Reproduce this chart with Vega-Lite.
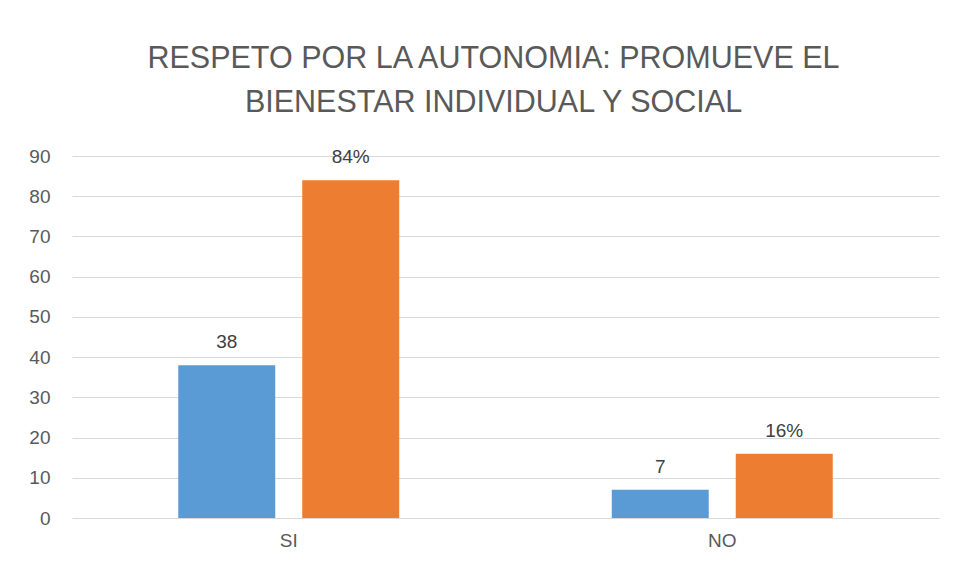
{
  "$schema": "https://vega.github.io/schema/vega-lite/v6.json",
  "width": 867,
  "height": 362,
  "autosize": {"type": "none"},
  "padding": {"left": 72, "top": 156, "right": 16, "bottom": 62},
  "background": "white",
  "title": {
    "text": ["RESPETO POR LA AUTONOMIA: PROMUEVE EL", "BIENESTAR INDIVIDUAL Y SOCIAL"],
    "font": "Liberation Sans",
    "fontSize": 30.5,
    "fontWeight": "normal",
    "color": "#595959",
    "anchor": "middle",
    "lineHeight": 44,
    "offset": 29,
    "dx": -12
  },
  "data": {
    "values": [
      {"cat": "SI", "serie": "A", "value": 38, "label": "38"},
      {"cat": "SI", "serie": "B", "value": 84, "label": "84%"},
      {"cat": "NO", "serie": "A", "value": 7, "label": "7"},
      {"cat": "NO", "serie": "B", "value": 16, "label": "16%"}
    ]
  },
  "encoding": {
    "x": {
      "field": "cat", "type": "nominal", "sort": ["SI", "NO"],
      "scale": {"paddingInner": 0, "paddingOuter": 0},
      "axis": {"title": null, "labelAngle": 0, "domain": false, "ticks": false, "labelFont": "Liberation Sans", "labelFontSize": 19, "labelColor": "#595959", "labelPadding": 13, "grid": false}
    },
    "xOffset": {
      "field": "serie", "type": "nominal", "sort": ["A", "B"],
      "scale": {"paddingInner": 0.2177, "paddingOuter": 0.857}
    },
    "y": {
      "field": "value", "type": "quantitative",
      "scale": {"domain": [0, 90]},
      "axis": {"title": null, "values": [0, 10, 20, 30, 40, 50, 60, 70, 80, 90], "domain": false, "ticks": false, "grid": true, "gridColor": "#D9D9D9", "gridWidth": 1.2, "labelFont": "Liberation Sans", "labelFontSize": 19, "labelColor": "#595959", "labelPadding": 22}
    }
  },
  "layer": [
    {
      "mark": {"type": "bar"},
      "encoding": {
        "color": {"field": "serie", "type": "nominal", "scale": {"domain": ["A", "B"], "range": ["#5B9BD5", "#ED7D31"]}, "legend": null}
      }
    },
    {
      "mark": {"type": "text", "font": "Liberation Sans", "fontSize": 19, "color": "#404040", "baseline": "alphabetic", "dy": -17},
      "encoding": {"text": {"field": "label"}}
    }
  ],
  "config": {"view": {"stroke": null}}
}
